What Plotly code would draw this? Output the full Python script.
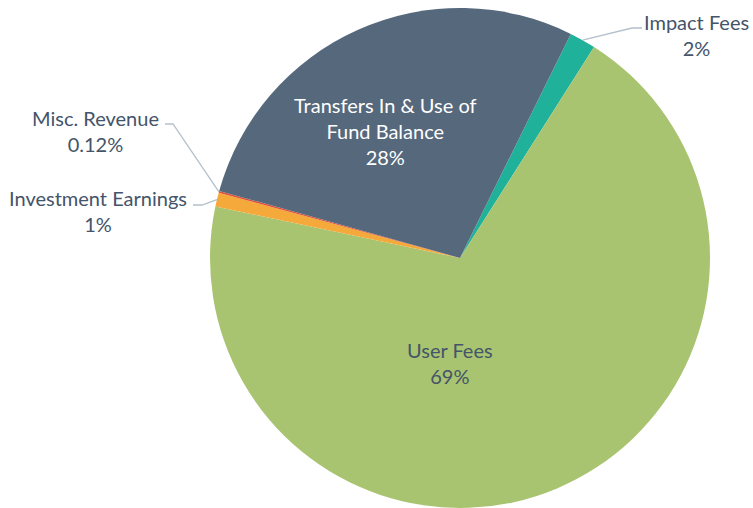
import numpy as np
import plotly.graph_objects as go

W, H = 753, 508

labels = ['Impact Fees', 'User Fees', 'Investment Earnings', 'Misc. Revenue',
          'Transfers In & Use of Fund Balance']
values = [1.7, 69.3, 0.9, 0.12, 27.98]
colors = ['#1FB199', '#A9C470', '#F5A93A', '#E0503A', '#56687C']
pct_text = [f'{v:.2f}%' if v < 0.5 else f'{v:.0f}%' for v in values]

# pie geometry in pixels
cx, cy, r = 460, 258, 250
rotation = 26.3
font_color = '#44546A'
font_family = 'Lato, Open Sans, sans-serif'
font_size = 20

fig = go.Figure(go.Pie(
    labels=labels, values=values, sort=False, direction='clockwise',
    rotation=rotation, textinfo='none', hoverinfo='label+percent',
    marker=dict(colors=colors, line=dict(width=0)),
    domain=dict(x=[(cx - r) / W, (cx + r) / W], y=[1 - (cy + r) / H, 1 - (cy - r) / H]),
    showlegend=False,
))


def _px_to_paper(px, py):
    return px / W, 1 - py / H


def _edge_point(idx):
    """Point on the pie edge at the middle of slice idx."""
    total = sum(values)
    start = rotation + 360 * sum(values[:idx]) / total
    mid = np.radians(start + 180 * values[idx] / total)
    return cx + r * np.sin(mid), cy - r * np.cos(mid)


def _label(px, py, text, color):
    x, y = _px_to_paper(px, py)
    fig.add_annotation(x=x, y=y, xref='paper', yref='paper', showarrow=False,
                       xanchor='center', yanchor='middle', text=text,
                       font=dict(color=color, size=font_size, family=font_family))


# inside labels
inside = {1: (450, 363, font_color, 'User Fees'),
          4: (385, 131, 'white', 'Transfers In & Use of<br>Fund Balance')}
for idx, (px, py, col, name) in inside.items():
    _label(px, py, f'{name}<br>{pct_text[idx]}', col)

# outside labels with leader lines: text centre, elbow, line start
outside = {0: ((696, 35), (632, 28), (642, 28)),
           3: ((95, 131), (173, 124), (165, 124)),
           2: ((98, 211), (202, 205), (193, 205))}
for idx, (txt, elbow, end) in outside.items():
    _label(*txt, f'{labels[idx]}<br>{pct_text[idx]}', font_color)
    ex, ey = _edge_point(idx)
    path = 'M {} {} L {} {} L {} {}'.format(*_px_to_paper(ex, ey), *_px_to_paper(*elbow), *_px_to_paper(*end))
    fig.add_shape(type='path', path=path, xref='paper', yref='paper',
                  line=dict(color='#B4C0CC', width=1.3))

fig.update_layout(width=W, height=H, margin=dict(l=0, r=0, t=0, b=0),
                  paper_bgcolor='white', plot_bgcolor='white')
fig.write_html('out.html', config={'displayModeBar': False},
               post_script="document.body.style.margin='0';")
